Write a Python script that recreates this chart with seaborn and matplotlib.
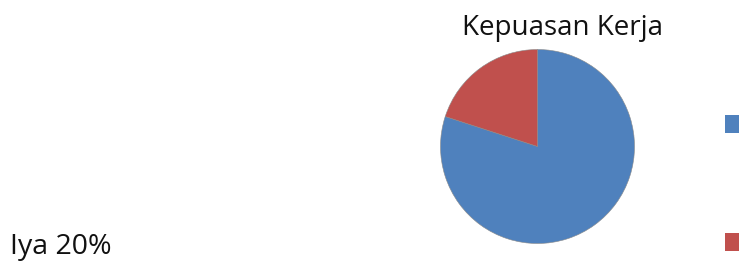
import matplotlib
matplotlib.use("Agg")
import matplotlib.pyplot as plt
import seaborn as sns

# data
labels = ["Tidak", "Iya"]
values = [80, 20]
colors = ["#4F81BD", "#C0504D"]
title = "Kepuasan Kerja"
data_label = "Iya 20%"

sns.set_theme(style="white")
plt.rcParams['font.family'] = ['Open Sans', 'DejaVu Sans']

W, H = 739, 266
fig = plt.figure(figsize=(W / 100, H / 100), dpi=100)
fig.patch.set_facecolor("white")

# pie axes
ax = fig.add_axes([440 / W, (H - 244) / H, 195 / W, 195 / H])
wedges, _ = ax.pie(values, colors=colors, startangle=90, counterclock=False,
                   wedgeprops=dict(linewidth=0.4, edgecolor="#8a8a8a"))
ax.set_xlim(-1.005, 1.005)
ax.set_ylim(-1.005, 1.005)
ax.set_aspect("equal")

fig.text(562.5 / W, 1 - 28 / H, title, ha="center", va="center", fontsize=20, color="#111111")
fig.text(10 / W, 1 - 247 / H, data_label, ha="left", va="center", fontsize=20.5, color="#111111")

leg = fig.legend(wedges, labels, loc="upper left", bbox_to_anchor=(725 / W, 1 - 115 / H),
                 frameon=False, fontsize=12, handlelength=1.25, handleheight=1.25,
                 labelspacing=6.0, borderpad=0, borderaxespad=0, handletextpad=0.6)
for h in leg.legend_handles:
    h.set_edgecolor("none")

fig.savefig("out.png", dpi=100, facecolor="white")
